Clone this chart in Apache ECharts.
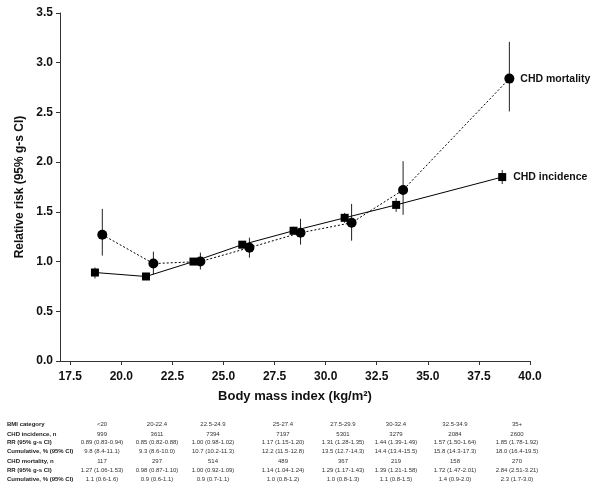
<!DOCTYPE html>
<html>
<head>
<meta charset="utf-8">
<script src="https://cdn.jsdelivr.net/npm/echarts@6/dist/echarts.min.js"></script>
<style>html,body{margin:0;padding:0;background:#fff;}#c{width:600px;height:494px;}</style>
</head>
<body>
<div id="c"></div>
<script>
// ---- data ----
var bmiCategories = ['<20', '20-22.4', '22.5-24.9', '25-27.4', '27.5-29.9', '30-32.4', '32.5-34.9', '35+'];
var xTicks = [17.5, 20, 22.5, 25, 27.5, 30, 32.5, 35, 37.5, 40];
// mean BMI of each category (x position of markers)
var incX = [18.71, 21.21, 23.53, 25.92, 28.43, 30.93, 33.45, 38.64];
var morX = [19.07, 21.57, 23.87, 26.27, 28.77, 31.27, 33.79, 38.99];
// CHD incidence
var incN = [999, 3611, 7394, 7197, 5301, 3279, 2084, 2600];
var incRR = [0.89, 0.85, 1.00, 1.17, 1.31, 1.44, 1.57, 1.85];
var incLo = [0.83, 0.82, 0.98, 1.15, 1.28, 1.39, 1.50, 1.78];
var incHi = [0.94, 0.88, 1.02, 1.20, 1.35, 1.49, 1.64, 1.92];
var incCum = [9.8, 9.3, 10.7, 12.2, 13.5, 14.4, 15.8, 18.0];
var incCumLo = [8.4, 8.6, 10.2, 11.5, 12.7, 13.4, 14.3, 16.4];
var incCumHi = [11.1, 10.0, 11.3, 12.8, 14.3, 15.5, 17.3, 19.5];
// CHD mortality
var morN = [117, 297, 514, 489, 367, 219, 158, 270];
var morRR = [1.27, 0.98, 1.00, 1.14, 1.29, 1.39, 1.72, 2.84];
var morLo = [1.06, 0.87, 0.92, 1.04, 1.17, 1.21, 1.47, 2.51];
var morHi = [1.53, 1.10, 1.09, 1.24, 1.43, 1.58, 2.01, 3.21];
var morCum = [1.1, 0.9, 0.9, 1.0, 1.0, 1.1, 1.4, 2.3];
var morCumLo = [0.6, 0.6, 0.7, 0.8, 0.8, 0.8, 0.9, 1.7];
var morCumHi = [1.6, 1.1, 1.1, 1.2, 1.3, 1.5, 2.0, 3.0];

// ---- layout ----
var FONT = '"Liberation Sans", Arial, Helvetica, sans-serif';
var colX = [102, 157, 213, 283, 343, 396, 455, 517];
var rowY = [424, 434, 442.5, 451, 461, 470, 479.5];
var labelX = 7;

function pairs(xs, ys) { return xs.map(function (x, i) { return [x, ys[i]]; }); }
function triples(xs, lo, hi) { return xs.map(function (x, i) { return [x, lo[i], hi[i]]; }); }
function ci(v, lo, hi, d) { return v.map(function (x, i) { return x.toFixed(d) + ' (' + lo[i].toFixed(d) + '-' + hi[i].toFixed(d) + ')'; }); }

var tableRows = [
  ['BMI category', bmiCategories],
  ['CHD incidence, n', incN.map(String)],
  ['RR (95% g-s CI)', ci(incRR, incLo, incHi, 2)],
  ['Cumulative, % (95% CI)', ci(incCum, incCumLo, incCumHi, 1)],
  ['CHD mortality, n', morN.map(String)],
  ['RR (95% g-s CI)', ci(morRR, morLo, morHi, 2)],
  ['Cumulative, % (95% CI)', ci(morCum, morCumLo, morCumHi, 1)]
];
var graphics = [];
tableRows.forEach(function (row, r) {
  graphics.push({ type: 'text', style: { text: row[0], x: labelX, y: rowY[r], font: 'bold 6px ' + FONT, fill: '#222', textAlign: 'left', textVerticalAlign: 'middle' } });
  row[1].forEach(function (t, c) {
    graphics.push({ type: 'text', style: { text: t, x: colX[c], y: rowY[r], font: '6px ' + FONT, fill: '#333', textAlign: 'center', textVerticalAlign: 'middle' } });
  });
});

function errRender(params, api) {
  var p1 = api.coord([api.value(0), api.value(1)]);
  var p2 = api.coord([api.value(0), api.value(2)]);
  return { type: 'line', shape: { x1: p1[0], y1: p1[1], x2: p2[0], y2: p2[1] }, style: { stroke: '#222', lineWidth: 1 } };
}

var chart = echarts.init(document.getElementById('c'), null, { renderer: 'canvas' });
chart.setOption({
  animation: false,
  backgroundColor: '#fff',
  textStyle: { fontFamily: FONT },
  grid: { left: 60, right: 70, top: 13, bottom: 133, containLabel: false },
  xAxis: {
    type: 'value', min: 17, max: 40,
    name: 'Body mass index (kg/m²)', nameLocation: 'middle', nameGap: 29,
    nameTextStyle: { fontSize: 13, fontWeight: 'bold', color: '#111', fontFamily: FONT },
    axisLine: { show: true, onZero: false, lineStyle: { color: '#333', width: 1 } },
    axisTick: { show: true, length: 4, customValues: xTicks, lineStyle: { color: '#333' } },
    axisLabel: { customValues: xTicks, margin: 10, fontSize: 12, fontWeight: 'bold', color: '#111', fontFamily: FONT, formatter: function (v) { return v.toFixed(1); } },
    splitLine: { show: false }
  },
  yAxis: {
    type: 'value', min: 0, max: 3.5, interval: 0.5,
    name: 'Relative risk (95% g-s CI)', nameLocation: 'middle', nameGap: 29, nameRotate: 90,
    nameTextStyle: { fontSize: 12, fontWeight: 'bold', color: '#111', fontFamily: FONT },
    axisLine: { show: true, lineStyle: { color: '#333', width: 1 } },
    axisTick: { show: true, length: 4, lineStyle: { color: '#333' } },
    axisLabel: { margin: 7, fontSize: 12, fontWeight: 'bold', color: '#111', fontFamily: FONT, formatter: function (v) { return v.toFixed(1); } },
    splitLine: { show: false }
  },
  series: [
    { type: 'custom', renderItem: errRender, data: triples(incX, incLo, incHi), z: 2, silent: true },
    { type: 'custom', renderItem: errRender, data: triples(morX, morLo, morHi), z: 2, silent: true },
    {
      type: 'line', name: 'CHD incidence', data: pairs(incX, incRR),
      symbol: 'rect', symbolSize: 8, showAllSymbol: true, z: 3,
      itemStyle: { color: '#000' }, lineStyle: { color: '#000', width: 1, type: 'solid' },
      endLabel: { show: true, formatter: 'CHD incidence', distance: 11, fontSize: 10.5, fontWeight: 'bold', color: '#111', fontFamily: FONT }
    },
    {
      type: 'line', name: 'CHD mortality', data: pairs(morX, morRR),
      symbol: 'circle', symbolSize: 10, showAllSymbol: true, z: 3,
      itemStyle: { color: '#000' }, lineStyle: { color: '#000', width: 1, type: [2, 2] },
      endLabel: { show: true, formatter: 'CHD mortality', distance: 11, fontSize: 10.5, fontWeight: 'bold', color: '#111', fontFamily: FONT }
    }
  ],
  graphic: graphics
});
</script>
</body>
</html>
